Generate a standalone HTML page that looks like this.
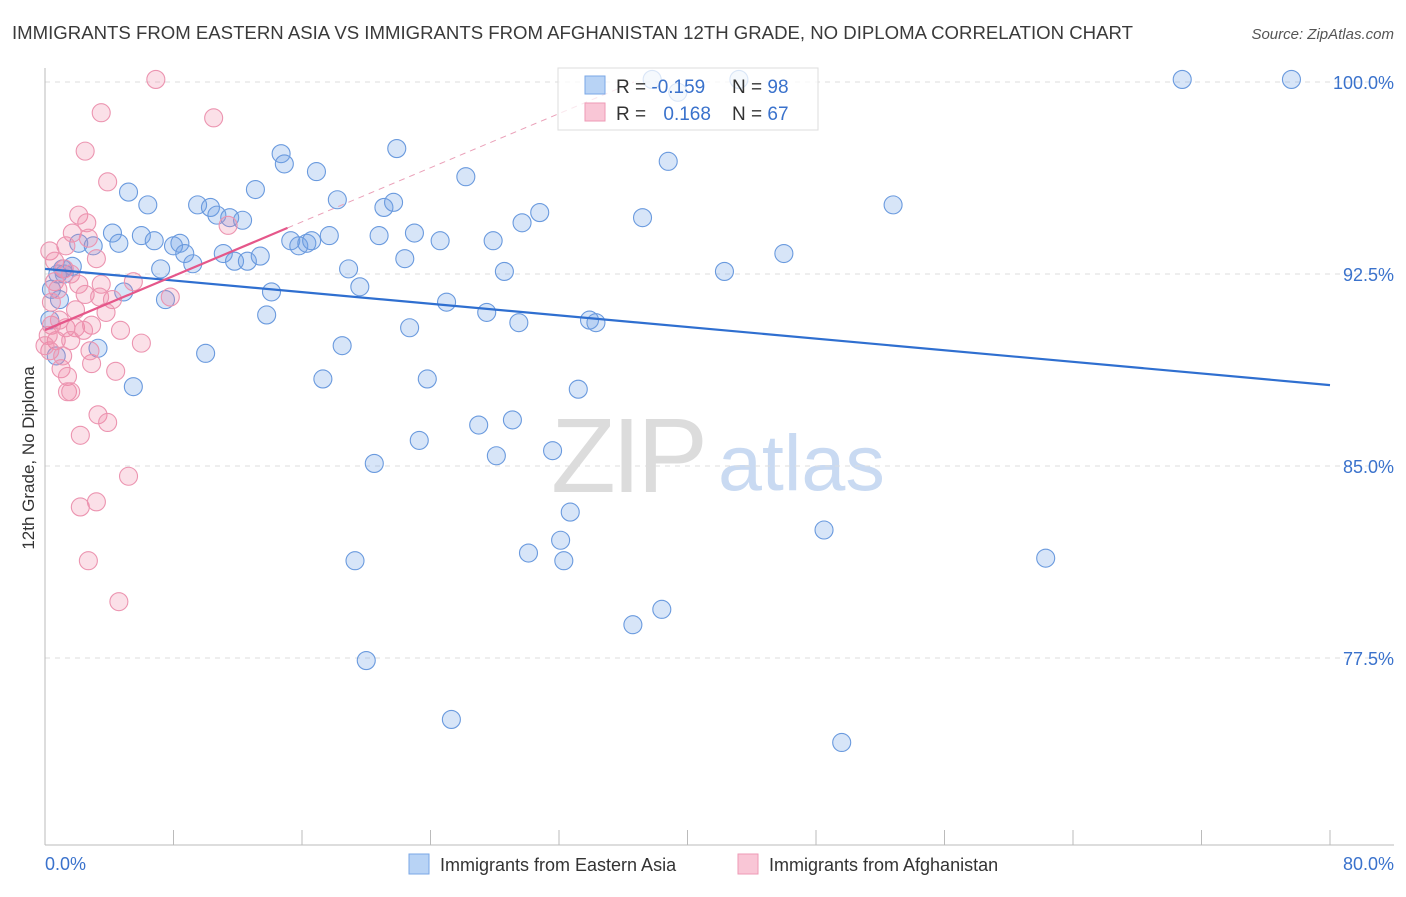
<!DOCTYPE html>
<html><head><meta charset="utf-8"><style>
body{margin:0;background:#fff;font-family:"Liberation Sans",sans-serif;}
svg text{font-family:"Liberation Sans",sans-serif;}
</style></head><body>
<svg id="chart" width="1406" height="892" xmlns="http://www.w3.org/2000/svg">
<text x="12" y="39" font-size="18.6" fill="#3a3a3a">IMMIGRANTS FROM EASTERN ASIA VS IMMIGRANTS FROM AFGHANISTAN 12TH GRADE, NO DIPLOMA CORRELATION CHART</text>
<text x="1394" y="39" font-size="15" fill="#555" text-anchor="end" font-style="italic">Source: ZipAtlas.com</text>
<g>
<text x="551" y="492" font-size="106" fill="#dcdcdc" font-family="Liberation Serif" letter-spacing="-4">ZIP</text>
<text x="718" y="490" font-size="79" fill="#c9daf2">atlas</text>
</g>
<g id="grid"></g>
<g id="axes"></g>
<g id="pts"></g>
<g id="trends"></g>
<g>
<rect x="558" y="68" width="260" height="62" fill="#fff" fill-opacity="0.75" stroke="#ddd"/>
<rect x="585" y="76" width="20" height="18" fill="#b8d3f5" stroke="#7aa7e6"/>
<rect x="585" y="103" width="20" height="18" fill="#f9c6d6" stroke="#ee9ab5"/>
<text x="616" y="93" font-size="19" fill="#333">R = <tspan fill="#3a72cc">-0.159</tspan></text>
<text x="732" y="93" font-size="19" fill="#333">N = <tspan fill="#3a72cc">98</tspan></text>
<text x="616" y="120" font-size="19" fill="#333">R = <tspan fill="#3a72cc" dx="12">0.168</tspan></text>
<text x="732" y="120" font-size="19" fill="#333">N = <tspan fill="#3a72cc">67</tspan></text>
</g>
<text transform="translate(34,458) rotate(-90)" font-size="17" fill="#333" text-anchor="middle">12th Grade, No Diploma</text>
<g>
<rect x="409" y="854" width="20" height="20" fill="#b8d3f5" stroke="#7aa7e6"/>
<text x="440" y="871" font-size="18" fill="#333">Immigrants from Eastern Asia</text>
<rect x="738" y="854" width="20" height="20" fill="#f9c6d6" stroke="#ee9ab5"/>
<text x="769" y="871" font-size="18" fill="#333">Immigrants from Afghanistan</text>
</g>
</svg>
<script>
const blueX=[37.8,43.2,70.8,77.6,39.4,21.9,14.7,14.9,16.9,38.8,26.2,5.2,13.1,6.4,9.5,10.3,10.7,11.5,12.3,18.2,21.1,21.7,30.8,29.7,37.2,52.8,4.2,6.0,6.8,8.4,8.0,8.7,9.2,11.1,11.8,12.6,13.4,15.3,15.8,16.3,16.6,17.7,20.8,23.0,24.6,27.9,46.0,2.1,3.0,4.6,7.2,18.9,22.4,28.6,42.3,4.9,7.5,14.1,19.6,25.0,1.1,1.7,13.8,27.5,29.5,22.7,33.9,34.3,18.5,3.3,10.0,0.7,5.5,17.3,23.8,33.2,29.1,27.0,23.3,28.1,31.6,20.5,32.7,48.5,32.1,30.1,32.3,19.3,62.3,38.4,36.6,20.0,25.3,49.6,0.9,0.4,1.2,0.3,0.8];
const blueY=[100.1,100.1,100.1,100.1,99.6,97.4,97.2,96.8,96.5,96.9,96.3,95.7,95.8,95.2,95.2,95.1,94.8,94.7,94.6,95.4,95.1,95.3,94.9,94.5,94.7,95.2,94.1,94.0,93.8,93.7,93.6,93.3,92.9,93.3,93.0,93.0,93.2,93.8,93.6,93.7,93.8,94.0,94.0,94.1,93.8,93.8,93.3,93.7,93.6,93.7,92.7,92.7,93.1,92.6,92.6,91.8,91.5,91.8,92.0,91.4,92.7,92.8,90.9,91.0,90.6,90.4,90.7,90.6,89.7,89.6,89.4,89.3,88.1,88.4,88.4,88.0,86.8,86.6,86.0,85.4,85.6,85.1,83.2,82.5,82.1,81.6,81.3,81.3,81.4,79.4,78.8,77.4,75.1,74.2,91.5,91.9,92.5,90.7,92.5];
const pinkX=[6.9,3.5,10.5,2.5,3.9,2.1,2.6,11.4,1.7,2.7,1.3,0.3,0.6,3.2,1.2,1.6,0.6,2.1,3.5,0.8,2.5,4.2,0.4,7.8,5.5,3.8,0.4,1.3,1.9,2.9,2.4,4.7,6.0,0.7,1.6,0.3,2.9,4.4,1.0,1.4,1.4,1.6,3.3,3.9,2.2,5.2,2.2,3.2,2.7,4.6,0.9,0.2,1.1,1.9,3.4,0.0,2.8];
const pinkY=[100.1,98.8,98.6,97.3,96.1,94.8,94.5,94.4,94.1,93.9,93.6,93.4,93.0,93.1,92.7,92.5,92.2,92.1,92.1,91.9,91.7,91.5,91.4,91.6,92.2,91.0,90.5,90.4,90.4,90.5,90.3,90.3,89.8,89.9,89.9,89.5,89.0,88.7,88.8,88.5,87.9,87.9,87.0,86.7,86.2,84.6,83.4,83.6,81.3,79.7,90.7,90.1,89.3,91.1,91.6,89.7,89.5];
const blueTrend=[92.70,88.16]; // y at x=0 and x=80
const pinkTrend=[90.31,94.30,15.1]; // y at x=0, y at x=end, solid end x
const yTicks=[100,92.5,85,77.5];
const yTickLabels=["100.0%","92.5%","85.0%","77.5%"];
const xTickLabels=["0.0%","80.0%"];

const X0=45,X1=1330,Y100=82,PPU=25.6;
const sx=v=>X0+(v/80)*(X1-X0);
const sy=v=>Y100+(100-v)*PPU;
const NS="http://www.w3.org/2000/svg";
function mk(tag,attrs,parent){const e=document.createElementNS(NS,tag);for(const k in attrs)e.setAttribute(k,attrs[k]);parent.appendChild(e);return e;}
const grid=document.getElementById('grid'),axes=document.getElementById('axes'),pts=document.getElementById('pts'),tr=document.getElementById('trends');
yTicks.forEach((t,i)=>{
 const l=mk('line',{x1:X0,x2:1394,y1:sy(t),y2:sy(t),stroke:'#ddd','stroke-dasharray':'5,5'},grid);
 
 
 const tx=mk('text',{x:1394,y:sy(t)+7,'font-size':18,fill:'#3a72cc','text-anchor':'end'},axes);
 tx.textContent=yTickLabels[i];
 
 
});
const ax=mk('line',{x1:X0,x2:X0,y1:68,y2:845,stroke:'#bbb'},axes);


const bx=mk('line',{x1:X0,x2:1394,y1:845,y2:845,stroke:'#bbb'},axes);


for(let i=0;i<=10;i++){
 const t=mk('line',{x1:sx(i*8),x2:sx(i*8),y1:830,y2:845,stroke:'#bbb'},axes);
 
 
}
[[0,'start',X0],[1,'end',1394]].forEach(([i,a,x])=>{
 const t=mk('text',{x:x,y:870,'font-size':18,fill:'#3a72cc','text-anchor':a},axes);
 t.textContent=xTickLabels[i];
 
 
});
blueX.forEach((v,i)=>{
 const c=mk('circle',{cx:sx(v),cy:sy(blueY[i]),r:9,fill:'rgba(110,160,230,0.28)',stroke:'#6a9ade','stroke-width':1.1},pts);
 
 
});
pinkX.forEach((v,i)=>{
 const c=mk('circle',{cx:sx(v),cy:sy(pinkY[i]),r:9,fill:'rgba(240,130,165,0.25)',stroke:'#ec94b0','stroke-width':1.1},pts);
 
 
});
const bl=mk('line',{x1:sx(0),y1:sy(blueTrend[0]),x2:sx(80),y2:sy(blueTrend[1]),stroke:'#2f6fd0','stroke-width':2.2},tr);


const slope=(pinkTrend[1]-pinkTrend[0])/pinkTrend[2];
const pl=mk('line',{x1:sx(0),y1:sy(pinkTrend[0]),x2:sx(pinkTrend[2]),y2:sy(pinkTrend[1]),stroke:'#e5578a','stroke-width':2.2},tr);


const xe=(100-pinkTrend[0])/slope;
const pd=mk('line',{x1:sx(pinkTrend[2]),y1:sy(pinkTrend[1]),x2:sx(xe),y2:sy(100),stroke:'#eaa0b8','stroke-width':1,'stroke-dasharray':'6,5'},tr);


</script>
</body></html>
